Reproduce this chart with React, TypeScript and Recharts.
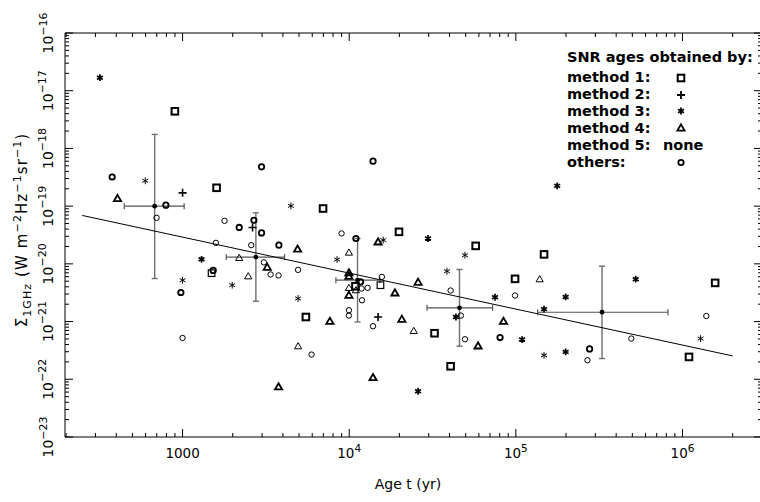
import React from "react";
import { ScatterChart, Scatter, XAxis, YAxis, ErrorBar, ReferenceLine } from "recharts";

// age t (yr), Sigma_1GHz (W m^-2 Hz^-1 sr^-1)
const method1A: [number, number][] = [
  [899, 4.4e-18], [1600, 2.08e-19], [6966, 9.1e-20], [19900, 3.59e-20], [57400, 2.05e-20],
  [147600, 1.46e-20], [98900, 5.5e-21], [1570000, 4.68e-21], [5495, 1.2e-21], [32500, 6.28e-22],
  [40600, 1.68e-22], [1094000, 2.44e-22], [10900, 4.1e-21],
];
const method1B: [number, number][] = [[1493, 6.9e-21], [15400, 4.27e-21]];
const method2: [number, number][] = [[1000, 1.7e-19], [2630, 4.27e-20], [14900, 1.2e-21]];
const method3A: [number, number][] = [
  [319, 1.68e-17], [1300, 1.2e-20], [29700, 2.75e-20], [177000, 2.25e-19], [75000, 2.64e-21],
  [109000, 4.88e-22], [25900, 6.2e-23], [43700, 1.2e-21], [199000, 2.67e-21], [147600, 1.64e-21],
  [199000, 2.98e-22], [524000, 5.42e-21],
];
const method3B: [number, number][] = [
  [597, 2.75e-19], [4467, 1.01e-19], [1000, 5.2e-21], [1985, 4.27e-21], [4933, 2.51e-21],
  [8454, 1.19e-20], [16000, 2.58e-20], [38600, 7.46e-21], [49500, 1.41e-20], [147600, 2.61e-22],
  [1285000, 5.08e-22],
];
const method4A: [number, number][] = [
  [407, 1.36e-19], [4898, 1.8e-20], [3221, 8.75e-21], [3767, 7.4e-23], [14900, 2.4e-20],
  [9960, 7.0e-21], [9960, 6.1e-21], [9960, 2.86e-21], [13900, 1.07e-22], [7655, 1.01e-21],
  [18800, 3.14e-21], [25900, 4.81e-21], [20700, 1.1e-21], [59300, 3.79e-22], [84300, 1.01e-21],
];
const method4B: [number, number][] = [
  [2187, 1.27e-20], [2477, 6.1e-21], [4933, 3.74e-22], [9960, 1.57e-20], [9960, 3.84e-21],
  [10970, 3.5e-21], [24400, 6.9e-22], [139000, 5.42e-21],
];
const othersA: [number, number][] = [
  [378, 3.2e-19], [794, 1.04e-19], [2187, 4.27e-20], [2680, 5.7e-20], [2978, 3.44e-20],
  [2978, 4.8e-19], [3784, 2.11e-20], [977, 3.19e-21], [1527, 7.7e-21], [13900, 6.02e-19],
  [10970, 2.75e-20], [11700, 4.88e-21], [80400, 5.29e-22], [277000, 3.36e-22],
];
const othersB: [number, number][] = [
  [698, 6.27e-20], [1786, 5.56e-20], [1585, 2.31e-20], [2582, 2.11e-20], [3076, 1.06e-20],
  [3375, 6.55e-21], [3767, 6.3e-21], [4933, 7.87e-21], [1000, 5.2e-22], [5943, 2.68e-22],
  [8995, 3.37e-20], [15700, 5.94e-21], [11860, 3.74e-21], [12900, 3.84e-21], [11940, 2.34e-21],
  [9960, 1.57e-21], [9960, 1.27e-21], [13900, 8.3e-22], [40600, 3.45e-21], [46800, 1.27e-21],
  [49500, 4.94e-22], [98900, 2.83e-21], [269000, 2.14e-22], [493000, 5.08e-22], [1390000, 1.25e-21],
];

// binned means with ranges
const binAge = [680, 2754, 11220, 45900, 329000];
const binAgeLow = [447, 1828, 8318, 29300, 135000];
const binAgeHigh = [1022, 4092, 15270, 72500, 818000];
const binSigma = [1.0e-19, 1.31e-20, 5.21e-21, 1.73e-21, 1.45e-21];
const binSigmaLow = [5.57e-21, 2.25e-21, 9.87e-22, 3.74e-22, 2.29e-22];
const binSigmaHigh = [1.75e-18, 7.66e-20, 2.75e-20, 8.0e-21, 9.12e-21];

// fitted relation
const fitAge = [250, 2.0e6];
const fitSigma = [6.9e-20, 2.54e-22];

const ageDecades = [1e3, 1e4, 1e5, 1e6];
const ageTickLabels = [["1000", ""], ["10", "4"], ["10", "5"], ["10", "6"]];
const sigmaDecades = [1e-23, 1e-22, 1e-21, 1e-20, 1e-19, 1e-18, 1e-17, 1e-16];
const sigmaTickLabels = ["\u221223", "\u221222", "\u221221", "\u221220", "\u221219", "\u221218", "\u221217", "\u221216"];

const legendRows = ["method 1:", "method 2:", "method 3:", "method 4:", "method 5:", "others:"];

const AGE_DOMAIN: [number, number] = [197, 3.0e6];
const SIG_DOMAIN: [number, number] = [1e-23, 1e-16];
const L = 65, R = 762, T = 33, B = 437;
const FONT = "'DejaVu Sans', sans-serif";

const rows = (a: [number, number][]) => a.map(([t, s]) => ({ t, s }));

const minors = (decades: number[], lo: number, hi: number) => {
  const out: number[] = [];
  const first = decades[0] / 10;
  for (let d = first; d <= decades[decades.length - 1] * 10; d *= 10) {
    for (let m = 1; m <= 9; m++) {
      const v = m * d;
      if (v >= lo * 0.999 && v <= hi * 1.001) out.push(v);
    }
  }
  return out;
};
const isDecade = (v: number) => Math.abs(Math.log10(v) - Math.round(Math.log10(v))) < 1e-6;

function AgeTick(props: any) {
  const { x, payload } = props;
  const v = payload.value;
  const major = isDecade(v);
  const len = major ? 8 : 4;
  const i = ageDecades.findIndex((d) => Math.abs(Math.log10(d) - Math.log10(v)) < 1e-6);
  return (
    <g>
      <line x1={x} x2={x} y1={B} y2={B - len} stroke="#000" />
      <line x1={x} x2={x} y1={T} y2={T + len} stroke="#000" />
      {i >= 0 && (
        <text x={x} y={B + 21} textAnchor="middle" fontSize={13.5} fontFamily={FONT} fill="#000">
          {ageTickLabels[i][0]}
          {ageTickLabels[i][1] && (
            <tspan dy={-6} fontSize={10.5}>{ageTickLabels[i][1]}</tspan>
          )}
        </text>
      )}
    </g>
  );
}

function SigmaTick(props: any) {
  const { y, payload } = props;
  const v = payload.value;
  const major = isDecade(v);
  const len = major ? 8 : 4;
  const i = sigmaDecades.findIndex((d) => Math.abs(Math.log10(d) - Math.log10(v)) < 1e-6);
  const bx = 53;
  return (
    <g>
      <line x1={L} x2={L + len} y1={y} y2={y} stroke="#000" />
      <line x1={R} x2={R - len} y1={y} y2={y} stroke="#000" />
      {i >= 0 && (
        <text x={bx} y={y} transform={`rotate(-90, ${bx}, ${y})`} textAnchor="middle"
          fontSize={14} fontFamily={FONT} fill="#000">
          10<tspan dy={-6.5} fontSize={11}>{sigmaTickLabels[i]}</tspan>
        </text>
      )}
    </g>
  );
}

const Square = (w: number) => (p: any) => (
  <rect x={p.cx - 3.3} y={p.cy - 3.3} width={6.6} height={6.6} fill="none" stroke="#000" strokeWidth={w} />
);
const Plus = (w: number) => (p: any) => (
  <path d={`M${p.cx - 4},${p.cy}H${p.cx + 4}M${p.cx},${p.cy - 4}V${p.cy + 4}`} stroke="#000" strokeWidth={w} />
);
const Star = (w: number) => (p: any) => {
  const r = 3.4, a = r * Math.cos(Math.PI / 6), b = r * 0.5;
  return (
    <path
      d={`M${p.cx},${p.cy - r}V${p.cy + r}M${p.cx - a},${p.cy - b}L${p.cx + a},${p.cy + b}M${p.cx - a},${p.cy + b}L${p.cx + a},${p.cy - b}`}
      stroke="#000" strokeWidth={w} />
  );
};
const Tri = (w: number) => (p: any) => (
  <path d={`M${p.cx},${p.cy - 3.6}L${p.cx + 3.6},${p.cy + 2.6}L${p.cx - 3.6},${p.cy + 2.6}Z`}
    fill="none" stroke="#000" strokeWidth={w} strokeLinejoin="miter" />
);
const Circ = (w: number) => (p: any) => (
  <circle cx={p.cx} cy={p.cy} r={2.7} fill="none" stroke="#000" strokeWidth={w} />
);
const Dot = (p: any) => <circle cx={p.cx} cy={p.cy} r={2.4} fill="#000" />;
const NoShape = () => <g />;

export default function App() {
  const xTicks = minors(ageDecades, AGE_DOMAIN[0], AGE_DOMAIN[1]);
  const yTicks = minors(sigmaDecades, SIG_DOMAIN[0], SIG_DOMAIN[1]);
  const binRows = binAge.map((t, i) => ({
    t,
    s: binSigma[i],
    ex: [t - binAgeLow[i], binAgeHigh[i] - t],
    ey: [binSigma[i] - binSigmaLow[i], binSigmaHigh[i] - binSigma[i]],
  }));
  const fitRows = fitAge.map((t, i) => ({ t, s: fitSigma[i] }));
  const lx = 567, sx = 681;
  const lys = [82, 99, 116, 133, 150, 167];

  return (
    <div style={{ position: "absolute", left: 0, top: 0, width: 760, height: 502, overflow: "hidden", background: "#fff" }}>
      <ScatterChart width={770} height={502} margin={{ top: T, right: 8, bottom: 0, left: 0 }}>
        <XAxis type="number" dataKey="t" scale="log" domain={AGE_DOMAIN} allowDataOverflow
          ticks={xTicks} interval={0} tick={AgeTick} tickLine={false}
          axisLine={{ stroke: "#000" }} height={65} />
        <YAxis type="number" dataKey="s" scale="log" domain={SIG_DOMAIN} allowDataOverflow
          ticks={yTicks} interval={0} tick={SigmaTick} tickLine={false}
          axisLine={{ stroke: "#000" }} width={65} />
        <ReferenceLine y={SIG_DOMAIN[1]} stroke="#000" />
        <Scatter data={fitRows} shape={NoShape} line={{ stroke: "#000", strokeWidth: 1 }} lineType="joint" isAnimationActive={false} />
        <Scatter data={binRows} shape={Dot} isAnimationActive={false}>
          <ErrorBar dataKey="ey" direction="y" width={3} stroke="#6f6f6f" strokeWidth={1.4} />
          <ErrorBar dataKey="ex" direction="x" width={3} stroke="#555" strokeWidth={1.2} />
        </Scatter>
        <Scatter data={rows(method1A)} shape={Square(2)} isAnimationActive={false} />
        <Scatter data={rows(method1B)} shape={Square(1.2)} isAnimationActive={false} />
        <Scatter data={rows(method2)} shape={Plus(1.6)} isAnimationActive={false} />
        <Scatter data={rows(method3A)} shape={Star(1.7)} isAnimationActive={false} />
        <Scatter data={rows(method3B)} shape={Star(1)} isAnimationActive={false} />
        <Scatter data={rows(method4A)} shape={Tri(1.8)} isAnimationActive={false} />
        <Scatter data={rows(method4B)} shape={Tri(1)} isAnimationActive={false} />
        <Scatter data={rows(othersA)} shape={Circ(1.8)} isAnimationActive={false} />
        <Scatter data={rows(othersB)} shape={Circ(1)} isAnimationActive={false} />
      </ScatterChart>
      <svg width={760} height={502} style={{ position: "absolute", left: 0, top: 0, pointerEvents: "none" }}>
        <g fontFamily={FONT} fill="#000">
          <text x={lx} y={62} fontSize={14.5} fontWeight="bold">SNR ages obtained by:</text>
          {legendRows.map((r, i) => (
            <text key={r} x={lx} y={lys[i]} fontSize={14.5} fontWeight="bold">{r}</text>
          ))}
          <text x={663} y={150} fontSize={14.5} fontWeight="bold">none</text>
          {Square(2)({ cx: sx, cy: 78 })}
          {Plus(1.8)({ cx: sx, cy: 95 })}
          {Star(1.8)({ cx: sx, cy: 111 })}
          {Tri(1.8)({ cx: sx, cy: 128 })}
          {Circ(1.8)({ cx: sx, cy: 162.5 })}
          <text x={408} y={489} textAnchor="middle" fontSize={14}>Age t (yr)</text>
          <text x={27} y={230} transform="rotate(-90, 27, 230)" textAnchor="middle" fontSize={15} letterSpacing={1.1}>
            {"\u03A3"}
            <tspan dy={4} fontSize={11}>1GHz</tspan>
            <tspan dy={-4}>{"  (W m"}</tspan>
            <tspan dy={-6.5} fontSize={11}>{"\u22122"}</tspan>
            <tspan dy={6.5}>Hz</tspan>
            <tspan dy={-6.5} fontSize={11}>{"\u22121"}</tspan>
            <tspan dy={6.5}>sr</tspan>
            <tspan dy={-6.5} fontSize={11}>{"\u22121"}</tspan>
            <tspan dy={6.5}>)</tspan>
          </text>
        </g>
      </svg>
    </div>
  );
}
